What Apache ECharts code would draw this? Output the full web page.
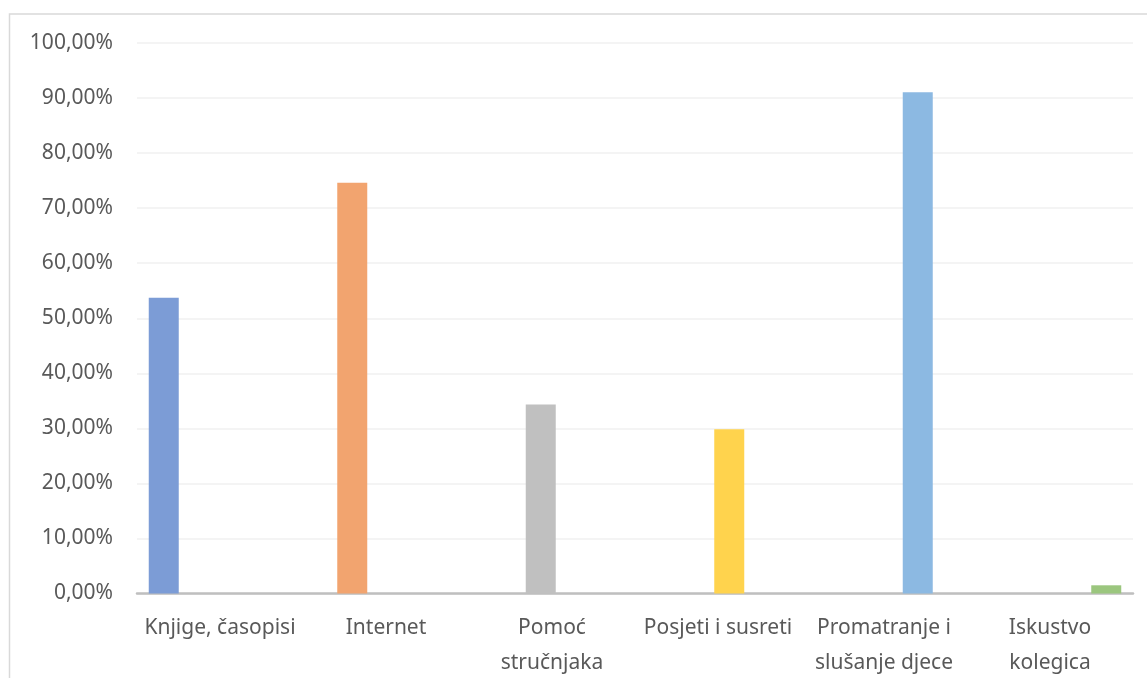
<!DOCTYPE html>
<html>
<head>
<meta charset="utf-8">
<script src="https://cdn.jsdelivr.net/npm/echarts@6/dist/echarts.min.js"></script>
<style>
html,body{margin:0;padding:0;background:#fff;}
#c{width:1147px;height:678px;}
</style>
</head>
<body>
<div id="c"></div>
<script>
var categories = ['Knjige, časopisi', 'Internet', 'Pomoć\nstručnjaka', 'Posjeti i susreti', 'Promatranje i\nslušanje djece', 'Iskustvo\nkolegica'];
var values = [53.73, 74.63, 34.33, 29.85, 91.04, 1.49];
var colors = ['#7C9CD6', '#F2A46F', '#C0C0C0', '#FFD34D', '#8CB9E2', '#9BC67E'];
var yTicks = [0, 10, 20, 30, 40, 50, 60, 70, 80, 90, 100];

var series = categories.map(function (c, i) {
  return {
    type: 'bar',
    name: c,
    barWidth: 30,
    barGap: '-25%',
    itemStyle: { color: colors[i] },
    data: categories.map(function (_, j) { return j === i ? values[i] : null; })
  };
});

var chart = echarts.init(document.getElementById('c'));
chart.setOption({
  animation: false,
  backgroundColor: '#fff',
  textStyle: { fontFamily: 'Noto Sans' },
  graphic: [{
    type: 'rect',
    shape: { x: 9.5, y: 14, width: 1150, height: 680 },
    style: { fill: 'none', stroke: '#d9d9d9', lineWidth: 1.5 },
    silent: true
  }],
  grid: { left: 137, right: 14, top: 43, bottom: 84.5, containLabel: false, outerBoundsMode: 'none' },
  xAxis: {
    type: 'category',
    data: categories,
    axisTick: { show: false },
    axisLine: { lineStyle: { color: '#bfbfbf', width: 2.5 } },
    axisLabel: {
      color: '#595959', fontSize: 21, fontFamily: 'Noto Sans',
      lineHeight: 35, margin: 17, interval: 0, align: 'center'
    }
  },
  yAxis: {
    type: 'value',
    min: yTicks[0],
    max: yTicks[yTicks.length - 1],
    interval: 10,
    axisLine: { show: false },
    axisTick: { show: false },
    splitLine: { lineStyle: { color: '#f0f0f0', width: 1.5 } },
    axisLabel: {
      color: '#595959', fontSize: 21, fontFamily: 'Noto Sans', margin: 24,
      formatter: function (v) { return v.toFixed(2).replace('.', ',') + '%'; }
    }
  },
  series: series
});
</script>
</body>
</html>
